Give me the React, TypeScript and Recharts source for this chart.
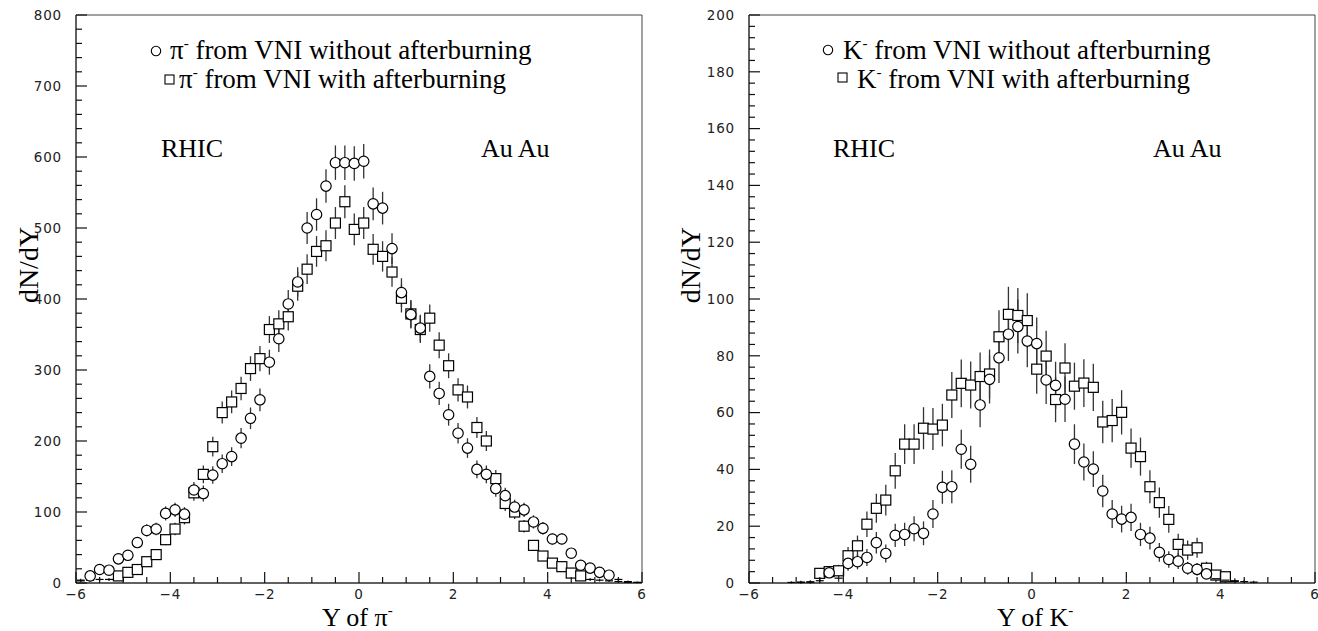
import React from 'react';
import { ScatterChart, Scatter, XAxis, YAxis, ErrorBar, ReferenceArea } from 'recharts';

// ---------- Left panel: pi- ----------
const piBins = [-5.9, -5.7, -5.5, -5.3, -5.1, -4.9, -4.7, -4.5, -4.3, -4.1,
  -3.9, -3.7, -3.5, -3.3, -3.1, -2.9, -2.7, -2.5, -2.3, -2.1,
  -1.9, -1.7, -1.5, -1.3, -1.1, -0.9, -0.7, -0.5, -0.3, -0.1,
  0.1, 0.3, 0.5, 0.7, 0.9, 1.1, 1.3, 1.5, 1.7, 1.9,
  2.1, 2.3, 2.5, 2.7, 2.9, 3.1, 3.3, 3.5, 3.7, 3.9,
  4.1, 4.3, 4.5, 4.7, 4.9, 5.1, 5.3, 5.5, 5.7, 5.9];

const piWithout = [4, 10, 19, 18, 34, 39, 57, 74, 76, 98,
  103, 97, 131, 126, 152, 168, 178, 204, 232, 258,
  311, 344, 393, 424, 500, 519, 559, 592, 592, 591,
  594, 534, 528, 471, 409, 378, 359, 291, 267, 237,
  211, 190, 160, 153, 133, 123, 107, 103, 86, 77,
  62, 62, 42, 25, 21, 15, 11, 5, 2, 1];
const piWithoutErr = [2, 3.2, 4.4, 4.2, 5.8, 6.2, 7.5, 8.6, 8.7, 9.9,
  10.1, 9.8, 11.4, 11.2, 12.3, 13, 13.3, 14.3, 15.2, 16.1,
  17.6, 18.5, 19.8, 20.6, 22.4, 22.8, 23.6, 24.3, 24.3, 24.3,
  24.4, 23.1, 23, 21.7, 20.2, 19.4, 18.9, 17.1, 16.3, 15.4,
  14.5, 13.8, 12.6, 12.4, 11.5, 11.1, 10.3, 10.1, 9.3, 8.8,
  7.9, 7.9, 6.5, 5, 4.6, 3.9, 3.3, 2.2, 1.4, 1];

const piWith = [3, 4, 5, 5, 10, 15, 19, 30, 40, 61,
  76, 92, 127, 153, 192, 240, 255, 274, 302, 316,
  357, 365, 375, 418, 442, 467, 475, 507, 537, 498,
  507, 470, 460, 438, 401, 379, 357, 373, 335, 306,
  272, 262, 219, 200, 147, 112, 100, 80, 53, 38,
  28, 23, 14, 10, 5, 4, 3, 2, 1, 0.5];
const piWithErr = [1.7, 2, 2.2, 2.2, 3.2, 3.9, 4.4, 5.5, 6.3, 7.8,
  8.7, 9.6, 11.3, 12.4, 13.9, 15.5, 16, 16.6, 17.4, 17.8,
  18.9, 19.1, 19.4, 20.4, 21, 21.6, 21.8, 22.5, 23.2, 22.3,
  22.5, 21.7, 21.4, 20.9, 20, 19.5, 18.9, 19.3, 18.3, 17.5,
  16.5, 16.2, 14.8, 14.1, 12.1, 10.6, 10, 8.9, 7.3, 6.2,
  5.3, 4.8, 3.7, 3.2, 2.2, 2, 1.7, 1.4, 1, 0.7];

// ---------- Right panel: K- ----------
const kBins = [-5.1, -4.9, -4.7, -4.5, -4.3, -4.1, -3.9, -3.7, -3.5, -3.3,
  -3.1, -2.9, -2.7, -2.5, -2.3, -2.1, -1.9, -1.7, -1.5, -1.3,
  -1.1, -0.9, -0.7, -0.5, -0.3, -0.1, 0.1, 0.3, 0.5, 0.7,
  0.9, 1.1, 1.3, 1.5, 1.7, 1.9, 2.1, 2.3, 2.5, 2.7,
  2.9, 3.1, 3.3, 3.5, 3.7, 3.9, 4.1, 4.3, 4.5, 4.7];

const kWithout = [null, 0.2, 0.3, 0.8, 3.6, 1.7, 6.9, 7.5, 9.0, 14.2,
  10.4, 16.8, 17.1, 19.1, 17.5, 24.3, 33.7, 33.9, 47.1, 41.8,
  62.7, 71.7, 79.3, 87.6, 90.3, 85.2, 84.3, 71.5, 69.6, 64.7,
  48.9, 42.6, 40.1, 32.4, 24.3, 22.5, 23.1, 17.1, 15.8, 10.8,
  8.3, 7.7, 5.2, 4.8, 3.2, 1.5, 1.0, 0.5, null, null];
const kWithoutErr = [null, 0.4, 0.5, 0.9, 1.9, 1.3, 2.6, 2.7, 3.0, 3.8,
  3.2, 4.1, 4.1, 4.4, 4.2, 4.9, 5.8, 5.8, 6.9, 6.5,
  7.9, 8.5, 8.9, 9.4, 9.5, 9.2, 9.2, 8.5, 8.3, 8.0,
  7.0, 6.5, 6.3, 5.7, 4.9, 4.7, 4.8, 4.1, 4.0, 3.3,
  2.9, 2.8, 2.3, 2.2, 1.8, 1.2, 1.0, 0.7, null, null];

const kWith = [0.2, 0.3, 0.4, 3.4, 4.0, 4.3, 9.6, 13.1, 20.7, 26.3,
  29.2, 39.5, 48.9, 48.9, 54.5, 54.2, 55.6, 66.2, 70.3, 69.7,
  72.7, 73.6, 86.7, 94.6, 94.2, 92.4, 75.3, 79.9, 64.6, 75.7,
  69.3, 70.4, 68.9, 56.7, 57.2, 60.1, 47.5, 44.5, 33.9, 28.3,
  22.4, 13.6, 11.6, 12.4, 5.2, 2.8, 2.2, 0.8, 0.5, 0.3];
const kWithErr = [0.4, 0.5, 0.6, 1.8, 2.0, 2.1, 3.1, 3.6, 4.5, 5.1,
  5.4, 6.3, 7.0, 7.0, 7.4, 7.4, 7.5, 8.1, 8.4, 8.3,
  8.5, 8.6, 9.3, 9.7, 9.7, 9.6, 8.7, 8.9, 8.0, 8.7,
  8.3, 8.4, 8.3, 7.5, 7.6, 7.8, 6.9, 6.7, 5.8, 5.3,
  4.7, 3.7, 3.4, 3.5, 2.3, 1.7, 1.5, 0.9, 0.7, 0.5];

// ---------- Axis tick labels ----------
const xMajorTicks = [-6, -4, -2, 0, 2, 4, 6];
const xMinorPerMajor = 4;
const piYMajorTicks = [0, 100, 200, 300, 400, 500, 600, 700, 800];
const piYMinorPerMajor = 5;
const kYMajorTicks = [0, 20, 40, 60, 80, 100, 120, 140, 160, 180, 200];
const kYMinorPerMajor = 5;

const withMinor = (majors: number[], n: number) => {
  const out: number[] = [];
  for (let i = 0; i < majors.length; i++) {
    out.push(majors[i]);
    if (i < majors.length - 1) {
      const step = (majors[i + 1] - majors[i]) / n;
      for (let k = 1; k < n; k++) out.push(+(majors[i] + k * step).toFixed(4));
    }
  }
  return out;
};

const toPoints = (xs: number[], ys: (number | null)[], es: (number | null)[]) =>
  xs.map((x, i) => ({ x, y: ys[i], err: es[i] })).filter((p) => p.y != null);

const fmt = (v: number) => (v < 0 ? '\u2212' + Math.abs(v) : String(v));

const TICK_FONT = 'DejaVu Sans';
const SERIF = 'Liberation Serif';
const AXIS_COLOR = '#222';

const XTick = (props: any) => {
  const { x, y, payload, majors } = props;
  const v = payload.value;
  const major = majors.includes(v);
  return (
    <g>
      <path d={`M${x},${y}V${y - (major ? 11 : 6)}`} stroke="#111" strokeWidth={1.2} fill="none" />
      {major && (
        <text x={x} y={y + 16} textAnchor="middle" fontFamily={TICK_FONT} fontSize={13.5}
          letterSpacing={0.8} fill="#222">{fmt(v)}</text>
      )}
    </g>
  );
};

const YTick = (props: any) => {
  const { x, y, payload, majors } = props;
  const v = payload.value;
  const major = majors.includes(v);
  return (
    <g>
      <path d={`M${x},${y}H${x + (major ? 11 : 6)}`} stroke="#111" strokeWidth={1.2} fill="none" />
      {major && (
        <text x={x - 14} y={y} dy="0.36em" textAnchor="end" fontFamily={TICK_FONT} fontSize={13.5}
          letterSpacing={0.8} fill="#222">{fmt(v)}</text>
      )}
    </g>
  );
};

const makeShape = (kind: 'circle' | 'square', threshold: number) => (props: any) => {
  const { cx, cy, payload } = props;
  if (cx == null || cy == null || isNaN(cx) || isNaN(cy)) return <g />;
  if (payload.y < threshold) {
    return <line x1={cx - 4} x2={cx + 4} y1={cy} y2={cy} stroke="#000" strokeWidth={1.2} />;
  }
  if (kind === 'circle') {
    return <circle cx={cx} cy={cy} r={5.2} fill="#fff" stroke="#000" strokeWidth={1.2} />;
  }
  return <rect x={cx - 5} y={cy - 5} width={10} height={10} fill="#fff" stroke="#000" strokeWidth={1.2} />;
};

interface PanelProps {
  left: number;
  yAxisWidth: number;
  rightMargin: number;
  yMax: number;
  yMajors: number[];
  yMinorPer: number;
  without: { x: number; y: any; err: any }[];
  withAb: { x: number; y: any; err: any }[];
  threshold: number;
}

const Panel = (p: PanelProps) => {
  const xTicks = withMinor(xMajorTicks, xMinorPerMajor);
  const yTicks = withMinor(p.yMajors, p.yMinorPer);
  return (
    <div style={{ position: 'absolute', left: p.left, top: 0 }}>
      <ScatterChart width={659} height={631} margin={{ top: 15, right: p.rightMargin, bottom: 0, left: 0 }}>
        <XAxis dataKey="x" type="number" domain={[-6, 6]} ticks={xTicks} interval={0}
          tickSize={0} tickMargin={0} tickLine={false} height={48} allowDataOverflow
          axisLine={{ stroke: AXIS_COLOR }}
          tick={(tp: any) => <XTick {...tp} majors={xMajorTicks} />} />
        <YAxis dataKey="y" type="number" domain={[0, p.yMax]} ticks={yTicks} interval={0}
          tickSize={0} tickMargin={0} tickLine={false} width={p.yAxisWidth} allowDataOverflow
          axisLine={{ stroke: AXIS_COLOR }}
          tick={(tp: any) => <YTick {...tp} majors={p.yMajors} />} />
        <ReferenceArea x1={-6} x2={6} y1={0} y2={p.yMax} fill="none" stroke="#444" strokeWidth={1} />
        <Scatter data={p.withAb} isAnimationActive={false} shape={makeShape('square', p.threshold)}>
          <ErrorBar dataKey="err" direction="y" width={0} stroke="#333" strokeWidth={1.3} />
        </Scatter>
        <Scatter data={p.without} isAnimationActive={false} shape={makeShape('circle', p.threshold)}>
          <ErrorBar dataKey="err" direction="y" width={0} stroke="#333" strokeWidth={1.3} />
        </Scatter>
      </ScatterChart>
    </div>
  );
};

const LegendLine = ({ x, y, particle, rest }: { x: number; y: number; particle: string; rest: string }) => (
  <text x={x} y={y} fontFamily={SERIF} fontSize={27} fill="#000">
    {particle}
    <tspan fontSize={15} dy={-11}>-</tspan>
    <tspan dy={11}>{rest}</tspan>
  </text>
);

export default function App() {
  const piWithoutPts = toPoints(piBins, piWithout, piWithoutErr);
  const piWithPts = toPoints(piBins, piWith, piWithErr);
  const kWithoutPts = toPoints(kBins, kWithout, kWithoutErr);
  const kWithPts = toPoints(kBins, kWith, kWithErr);

  return (
    <div style={{ position: 'absolute', left: 0, top: 0, width: 1318, height: 631, background: '#fff' }}>
      <Panel left={0} yAxisWidth={76} rightMargin={17} yMax={800} yMajors={piYMajorTicks}
        yMinorPer={piYMinorPerMajor} without={piWithoutPts} withAb={piWithPts} threshold={7} />
      <Panel left={659} yAxisWidth={90} rightMargin={3} yMax={200} yMajors={kYMajorTicks}
        yMinorPer={kYMinorPerMajor} without={kWithoutPts} withAb={kWithPts} threshold={1.8} />
      <svg width={1318} height={631} style={{ position: 'absolute', left: 0, top: 0, pointerEvents: 'none' }}>
        {/* left legend */}
        <circle cx={156} cy={51} r={4.7} fill="none" stroke="#000" strokeWidth={1.1} />
        <LegendLine x={170} y={59} particle={'\u03c0'} rest={' from VNI without afterburning'} />
        <rect x={165} y={75} width={9} height={9} fill="none" stroke="#000" strokeWidth={1.1} />
        <LegendLine x={179} y={88} particle={'\u03c0'} rest={' from VNI with afterburning'} />
        <text x={161} y={157} fontFamily={SERIF} fontSize={26} fill="#000">RHIC</text>
        <text x={481} y={157} fontFamily={SERIF} fontSize={26} fill="#000">Au Au</text>
        <text x={38} y={265} transform="rotate(-90, 38, 265)" textAnchor="middle" fontFamily={SERIF} fontSize={28} fill="#000">dN/dY</text>
        <text x={322} y={626} fontFamily={SERIF} fontSize={26} fill="#000">
          Y of {'\u03c0'}<tspan fontSize={15} dy={-11}>-</tspan>
        </text>

        {/* right legend */}
        <circle cx={828} cy={50} r={4.7} fill="none" stroke="#000" strokeWidth={1.1} />
        <LegendLine x={843} y={59} particle={'K'} rest={' from VNI without afterburning'} />
        <rect x={838} y={73} width={9} height={9} fill="none" stroke="#000" strokeWidth={1.1} />
        <LegendLine x={857} y={88} particle={'K'} rest={' from VNI with afterburning'} />
        <text x={833} y={157} fontFamily={SERIF} fontSize={26} fill="#000">RHIC</text>
        <text x={1153} y={157} fontFamily={SERIF} fontSize={26} fill="#000">Au Au</text>
        <text x={700} y={265} transform="rotate(-90, 700, 265)" textAnchor="middle" fontFamily={SERIF} fontSize={28} fill="#000">dN/dY</text>
        <text x={997} y={626} fontFamily={SERIF} fontSize={26} fill="#000">
          Y of K<tspan fontSize={15} dy={-11}>-</tspan>
        </text>
      </svg>
    </div>
  );
}
